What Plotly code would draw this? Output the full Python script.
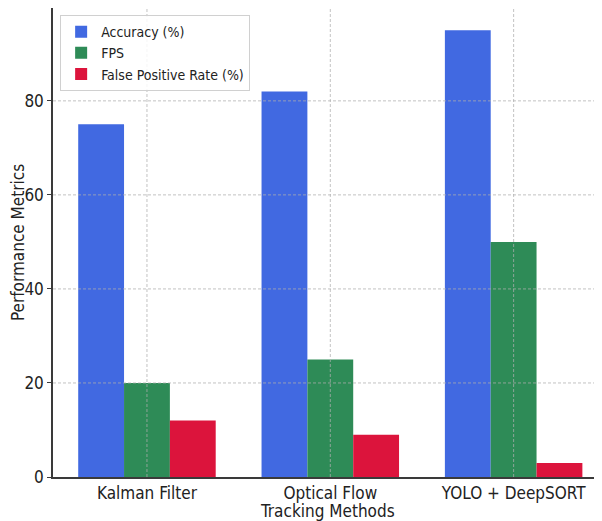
import plotly.graph_objects as go

methods = ["Kalman Filter", "Optical Flow", "YOLO + DeepSORT"]
accuracy = [75, 82, 95]
fps = [20, 25, 50]
fpr = [12, 9, 3]
y_ticks = [0, 20, 40, 60, 80]

FONT = "DejaVu Sans Condensed, DejaVu Sans, sans-serif"
fig = go.Figure()
fig.add_trace(go.Bar(x=methods, y=accuracy, name="Accuracy (%)", marker_color="#4169E1", marker_line_width=0))
fig.add_trace(go.Bar(x=methods, y=fps, name="FPS", marker_color="#2E8B57", marker_line_width=0))
fig.add_trace(go.Bar(x=methods, y=fpr, name="False Positive Rate (%)", marker_color="#DC143C", marker_line_width=0))

grid = dict(color="rgba(175,175,175,0.75)", width=1, dash="3px,2px")
shapes = []
for i, _ in enumerate(methods):
    shapes.append(dict(type="line", xref="x", yref="y domain", x0=i, x1=i, y0=0, y1=1, line=grid, layer="above"))
for v in y_ticks[1:]:
    shapes.append(dict(type="line", xref="x domain", yref="y", x0=0, x1=1, y0=v, y1=v, line=grid, layer="above"))

fig.update_layout(
    width=594, height=513,
    margin=dict(l=45, r=0, t=0, b=44),
    paper_bgcolor="white", plot_bgcolor="white",
    font=dict(family=FONT, size=17, color="#222"),
    barmode="group", bargap=0.25, bargroupgap=0,
    shapes=shapes,
    legend=dict(x=0.013, y=0.985, xanchor="left", yanchor="top",
                bgcolor="rgba(255,255,255,0.85)", bordercolor="#d0d0d0", borderwidth=1,
                font=dict(size=14, color="#222")),
    xaxis=dict(range=[-0.5125, 2.482], showgrid=False, showline=True, linecolor="#3a3a3a", linewidth=1.5,
               ticks="", automargin=False),
    yaxis=dict(range=[0, 99.75], tickvals=y_ticks, showgrid=False, zeroline=False, showline=True,
               linecolor="#3a3a3a", linewidth=1.5, ticks="outside", ticklen=4, tickcolor="#3a3a3a",
               automargin=False,
               title=dict(text="Performance Metrics", standoff=8, font=dict(size=17))),
    annotations=[dict(text="Tracking Methods", xref="paper", yref="paper", x=0.5, y=-34 / 469,
                      xanchor="center", yanchor="middle", showarrow=False, font=dict(size=17))],
)
fig.write_html("out.html")
